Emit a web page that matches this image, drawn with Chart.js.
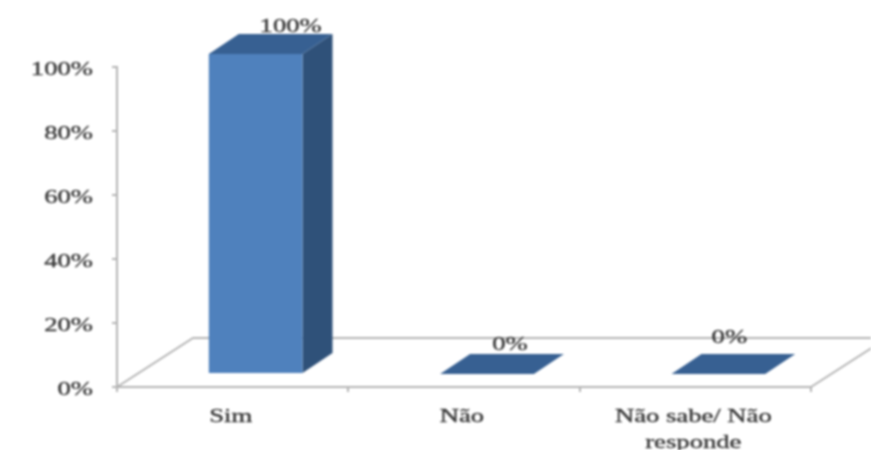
<!DOCTYPE html>
<html>
<head>
<meta charset="utf-8">
<style>
  html, body { margin: 0; padding: 0; background: #fff; }
  canvas { display: block; filter: blur(1px); }
</style>
<script src="https://cdn.jsdelivr.net/npm/chart.js@4"></script>
</head>
<body>
<canvas id="chart" width="871" height="450"></canvas>
<script>
const categories = ['Sim', 'Não', ['Não sabe/ Não', 'responde']];
const values = [100, 0, 0];
const valueLabels = ['100%', '0%', '0%'];
const tickValues = [0, 20, 40, 60, 80, 100];

const textFont = '18px "Liberation Serif"';
const textColor = '#383838';
const lineColor = '#b4b4b4';
const stretch = 1.48;

// bars stand a bit inside the floor, so they get shifted from the axis position
const barShift = { x: 23, y: -13 };
const barDepth = { x: 30, y: -20 };
const floorDepth = { x: 76, y: -49 };
const labelShift = [{ x: 35, y: -27 }, { x: 23, y: -29 }, { x: 11, y: -36 }];

// text in the picture is wider than any installed font, so scale it sideways
function drawText(ctx, text, x, y, align) {
    ctx.save();
    ctx.translate(x, y);
    ctx.scale(stretch, 1);
    ctx.font = textFont;
    ctx.fillStyle = textColor;
    ctx.strokeStyle = textColor;
    ctx.lineWidth = 0.35;
    ctx.textAlign = align;
    ctx.textBaseline = 'middle';
    ctx.fillText(text, 0, 0);
    ctx.strokeText(text, 0, 0);
    ctx.restore();
}

function fillFace(ctx, color, points) {
    ctx.fillStyle = color;
    ctx.beginPath();
    points.forEach((p, i) => i ? ctx.lineTo(p[0], p[1]) : ctx.moveTo(p[0], p[1]));
    ctx.closePath();
    ctx.fill();
}

const floorPlugin = {
    id: 'floor',
    beforeDatasetsDraw(chart) {
        const { ctx, chartArea: a } = chart;
        ctx.save();
        ctx.strokeStyle = lineColor;
        ctx.lineWidth = 2;
        ctx.beginPath();
        ctx.moveTo(a.left, a.bottom);
        ctx.lineTo(a.left + floorDepth.x, a.bottom + floorDepth.y);
        ctx.lineTo(chart.width, a.bottom + floorDepth.y);
        ctx.moveTo(a.right, a.bottom);
        ctx.lineTo(a.right + floorDepth.x, a.bottom + floorDepth.y);
        ctx.stroke();
        ctx.restore();
    }
};

const bar3dPlugin = {
    id: 'bar3d',
    beforeDatasetDraw(chart) {
        const ctx = chart.ctx;
        ctx.save();
        ctx.translate(barShift.x, barShift.y);
        chart.getDatasetMeta(0).data.forEach(bar => {
            const l = bar.x - bar.width / 2;
            const r = bar.x + bar.width / 2;
            const dx = barDepth.x;
            const dy = barDepth.y;
            fillFace(ctx, '#2f5179', [[r, bar.y], [r + dx, bar.y + dy], [r + dx, bar.base + dy], [r, bar.base]]);
            fillFace(ctx, '#376092', [[l, bar.y], [l + dx, bar.y + dy], [r + dx, bar.y + dy], [r, bar.y]]);
        });
    },
    afterDatasetDraw(chart) {
        chart.ctx.restore();
    },
    afterDraw(chart) {
        const ctx = chart.ctx;
        const x = chart.scales.x;
        const y = chart.scales.y;
        tickValues.forEach(v => {
            drawText(ctx, v + '%', 93, y.getPixelForValue(v) + 3, 'right');
        });
        categories.forEach((c, i) => {
            const lines = Array.isArray(c) ? c : [c];
            lines.forEach((line, n) => {
                drawText(ctx, line, x.getPixelForValue(i) - 2, 417 + n * 26, 'center');
            });
        });
        chart.getDatasetMeta(0).data.forEach((bar, i) => {
            drawText(ctx, valueLabels[i], bar.x + barShift.x + labelShift[i].x,
                bar.y + barShift.y + labelShift[i].y, 'center');
        });
    }
};

new Chart(document.getElementById('chart').getContext('2d'), {
    type: 'bar',
    data: {
        labels: categories,
        datasets: [{
            data: values,
            backgroundColor: '#4f81bd',
            barPercentage: 0.405,
            categoryPercentage: 1
        }]
    },
    options: {
        responsive: false,
        animation: false,
        events: [],
        layout: { padding: { top: 67, right: 60, bottom: 0, left: 0 } },
        plugins: { legend: { display: false }, tooltip: { enabled: false } },
        scales: {
            x: {
                grid: { drawOnChartArea: false, color: lineColor, tickLength: 5, lineWidth: 2 },
                border: { color: lineColor, width: 2 },
                ticks: { display: false },
                afterFit(scale) { scale.height = 63; }
            },
            y: {
                min: 0,
                max: 100,
                grid: { drawOnChartArea: false, color: lineColor, tickLength: 5, lineWidth: 2 },
                border: { color: lineColor, width: 2 },
                ticks: { display: false, stepSize: 20 },
                afterFit(scale) { scale.width = 117; }
            }
        }
    },
    plugins: [floorPlugin, bar3dPlugin]
});
</script>
</body>
</html>
